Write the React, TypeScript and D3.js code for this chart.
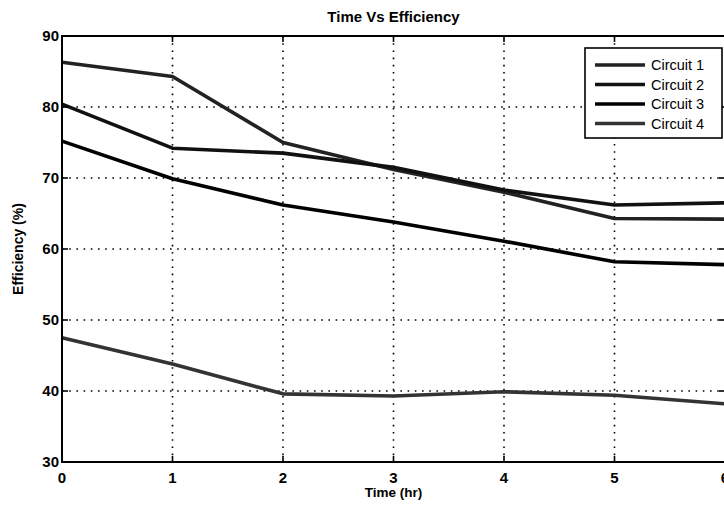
import React from "react";
import * as d3 from "d3";

const times = [0, 1, 2, 3, 4, 5, 6];
const circuit1 = [86.3, 84.3, 75.0, 71.2, 68.0, 64.3, 64.2];
const circuit2 = [80.4, 74.2, 73.5, 71.5, 68.3, 66.2, 66.5];
const circuit3 = [75.2, 69.9, 66.2, 63.8, 61.1, 58.2, 57.8];
const circuit4 = [47.5, 43.8, 39.6, 39.3, 39.9, 39.4, 38.2];
const seriesNames = ["Circuit 1", "Circuit 2", "Circuit 3", "Circuit 4"];
const yTicks = [30, 40, 50, 60, 70, 80, 90];

const W = 724, H = 506;
const m = { left: 62, top: 36, right: 725, bottom: 462 };

export default function App() {
  const x = d3.scaleLinear().domain([0, 6]).range([m.left, m.right]);
  const y = d3.scaleLinear().domain([30, 90]).range([m.bottom, m.top]);
  const all = [circuit1, circuit2, circuit3, circuit4];
  const colors = ["#222", "#111", "#000", "#333"];
  const line = d3.line<number>().x((_, i) => x(times[i])).y((d) => y(d));
  const font = "'Liberation Sans', Arial, sans-serif";
  const legX = 585, legY = 48, legW = 137, legH = 90;
  return (
    <svg width={W} height={H} style={{ position: "absolute", left: 0, top: 0, background: "#fff" }} fontFamily={font}>
      <rect x={0} y={0} width={W} height={H} fill="#fff" />
      {/* grid */}
      {times.slice(1, -1).map((t) => (
        <line key={"gx" + t} x1={x(t)} x2={x(t)} y1={m.top} y2={m.bottom} stroke="#000" strokeWidth={1.6} strokeDasharray="1.6,5.6" />
      ))}
      {yTicks.slice(1, -1).map((v) => (
        <line key={"gy" + v} x1={m.left} x2={m.right} y1={y(v)} y2={y(v)} stroke="#000" strokeWidth={1.6} strokeDasharray="1.6,5.6" />
      ))}
      {/* series */}
      {all.map((s, i) => (
        <path key={i} d={line(s) || ""} fill="none" stroke={colors[i]} strokeWidth={3.6} strokeLinejoin="round" />
      ))}
      {/* frame */}
      <rect x={m.left} y={m.top} width={m.right - m.left} height={m.bottom - m.top} fill="none" stroke="#000" strokeWidth={2} />
      {/* ticks */}
      {times.map((t) => (
        <g key={"tx" + t}>
          <line x1={x(t)} x2={x(t)} y1={m.bottom} y2={m.bottom - 6} stroke="#000" strokeWidth={1.6} />
          <line x1={x(t)} x2={x(t)} y1={m.top} y2={m.top + 6} stroke="#000" strokeWidth={1.6} />
          <text x={x(t)} y={m.bottom + 21} textAnchor="middle" fontSize={15} fontWeight="bold">{t}</text>
        </g>
      ))}
      {yTicks.map((v) => (
        <g key={"ty" + v}>
          <line x1={m.left} x2={m.left + 6} y1={y(v)} y2={y(v)} stroke="#000" strokeWidth={1.6} />
          <line x1={m.right} x2={m.right - 6} y1={y(v)} y2={y(v)} stroke="#000" strokeWidth={1.6} />
          <text x={m.left - 3} y={y(v) + 5} textAnchor="end" fontSize={15} fontWeight="bold">{v}</text>
        </g>
      ))}
      {/* labels */}
      <text x={(m.left + m.right) / 2} y={22} textAnchor="middle" fontSize={15} fontWeight="bold">Time Vs Efficiency</text>
      <text x={(m.left + m.right) / 2} y={497} textAnchor="middle" fontSize={13.5} fontWeight="bold">Time (hr)</text>
      <text transform={`translate(23,${(m.top + m.bottom) / 2}) rotate(-90)`} textAnchor="middle" fontSize={14} fontWeight="bold">Efficiency (%)</text>
      {/* legend */}
      <rect x={legX} y={legY} width={legW} height={legH} fill="#fff" stroke="#000" strokeWidth={1.6} />
      {seriesNames.map((n, i) => {
        const yy = legY + 17 + i * 19.5;
        return (
          <g key={n}>
            <line x1={legX + 10} x2={legX + 60} y1={yy} y2={yy} stroke={colors[i]} strokeWidth={3.6} />
            <text x={legX + 66} y={yy + 5} fontSize={14.5}>{n}</text>
          </g>
        );
      })}
    </svg>
  );
}
